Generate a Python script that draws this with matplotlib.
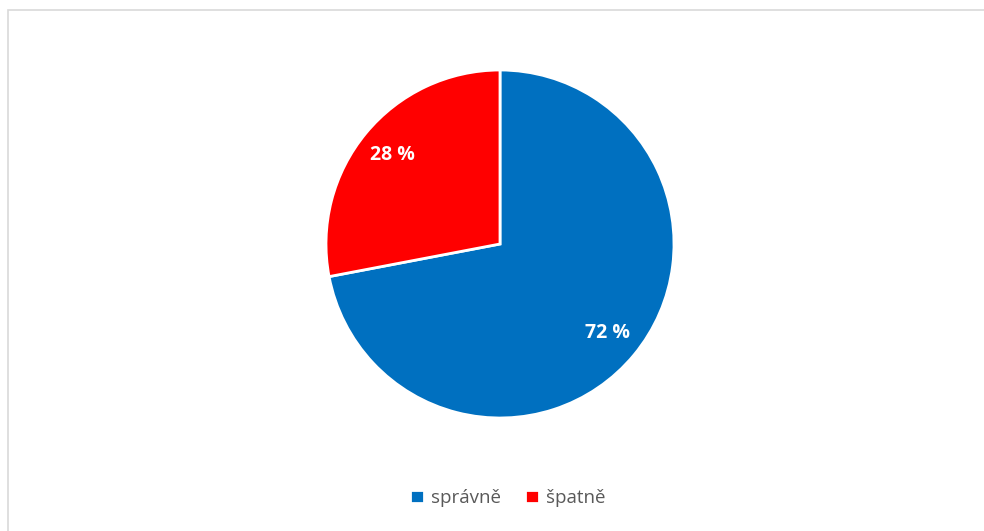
import matplotlib
matplotlib.use("Agg")
import matplotlib.pyplot as plt
from matplotlib.patches import Rectangle

labels = ["správně", "špatně"]
values = [72, 28]
colors = ["#0070C0", "#FF0000"]

plt.rcParams["font.family"] = ["Open Sans", "DejaVu Sans"]

W, H = 984, 531
fig = plt.figure(figsize=(W / 100, H / 100), dpi=100)

# light grey chart frame, running off the right and bottom edges
fig.patches.append(Rectangle((8 / W, -0.1), 1.1, 1 - 10 / H + 0.1, transform=fig.transFigure,
                             fill=False, edgecolor="#D9D9D9", lw=1.2))

ax = fig.add_axes([326 / W, 113 / H, 348 / W, 348 / H])
wedges, _, autotexts = ax.pie(values, colors=colors, startangle=90, counterclock=False,
                              autopct=lambda p: f"{p:.0f} %", pctdistance=0.80, radius=1,
                              wedgeprops=dict(edgecolor="white", linewidth=2))
for t in autotexts:
    t.set_color("white"); t.set_fontweight("bold"); t.set_fontsize(14)
ax.set_xlim(-1, 1); ax.set_ylim(-1, 1); ax.set_aspect("equal")

fig.legend(wedges, labels, loc="center", bbox_to_anchor=(508 / W, 1 - 498 / H), ncol=2,
           frameon=False, handlelength=0.7, handleheight=0.7, handletextpad=0.4,
           columnspacing=1.3, fontsize=13.5, labelcolor="#595959")

fig.savefig("out.png", dpi=100)
